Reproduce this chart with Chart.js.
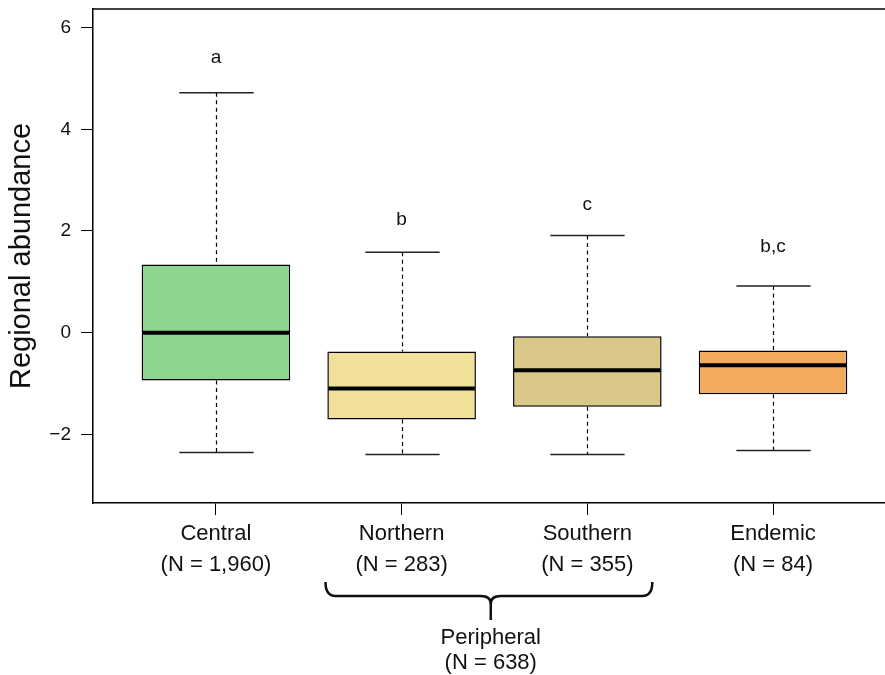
<!DOCTYPE html>
<html>
<head>
<meta charset="utf-8">
<script src="https://cdn.jsdelivr.net/npm/chart.js@4"></script>
<style>
  html, body { margin: 0; padding: 0; background: #fff; overflow: hidden; }
  canvas { display: block; }
</style>
</head>
<body>
<canvas id="chart" width="885" height="675"></canvas>
<script>
// Box plot summary per region
const categories = ['Central', 'Northern', 'Southern', 'Endemic'];
const sampleSizes = ['1,960', '283', '355', '84'];
const whiskerLow = [-2.36, -2.40, -2.40, -2.32];
const q1 = [-0.94, -1.71, -1.46, -1.21];
const medians = [0.00, -1.10, -0.74, -0.64];
const q3 = [1.34, -0.37, -0.07, -0.35];
const whiskerHigh = [4.72, 1.58, 1.91, 0.92];
const groupLetters = ['a', 'b', 'c', 'b,c'];
const letterY = [5.31, 2.11, 2.42, 1.58];
const yTicks = [-2, 0, 2, 4, 6];
const peripheralLabel = ['Peripheral', '(N = 638)'];

const boxColors = ['#8DD48E', '#F1E09A', '#D9C887', '#F3AA5C'];
const FONT = "'Liberation Sans', Arial, Helvetica, sans-serif";

// Whiskers, medians, letters, top frame line and the peripheral brace
const boxPlotExtras = {
    id: 'boxPlotExtras',
    beforeDatasetsDraw(chart) {
        const { ctx, scales: { x, y } } = chart;
        const meta = chart.getDatasetMeta(0);
        ctx.save();
        meta.data.forEach((bar, i) => {
            const cx = Math.round(x.getPixelForValue(i)) + 0.5;
            const half = bar.width / 4;
            ctx.strokeStyle = '#000';
            ctx.lineWidth = 1.2;
            ctx.setLineDash([4, 3.5]);
            ctx.beginPath();
            ctx.moveTo(cx, y.getPixelForValue(whiskerHigh[i]));
            ctx.lineTo(cx, y.getPixelForValue(q3[i]));
            ctx.moveTo(cx, y.getPixelForValue(q1[i]));
            ctx.lineTo(cx, y.getPixelForValue(whiskerLow[i]));
            ctx.stroke();

            ctx.setLineDash([]);
            ctx.lineWidth = 1.5;
            ctx.strokeStyle = '#222';
            ctx.beginPath();
            [whiskerHigh[i], whiskerLow[i]].forEach(v => {
                const py = y.getPixelForValue(v);
                ctx.moveTo(cx - half, py);
                ctx.lineTo(cx + half, py);
            });
            ctx.stroke();
        });
        ctx.restore();
    },
    afterDatasetsDraw(chart) {
        const { ctx, scales: { x, y } } = chart;
        const meta = chart.getDatasetMeta(0);
        ctx.save();
        meta.data.forEach((bar, i) => {
            const py = y.getPixelForValue(medians[i]);
            ctx.strokeStyle = '#000';
            ctx.lineWidth = 4;
            ctx.beginPath();
            ctx.moveTo(bar.x - bar.width / 2 + 1, py);
            ctx.lineTo(bar.x + bar.width / 2 - 1, py);
            ctx.stroke();

            ctx.fillStyle = '#111';
            ctx.font = `19px ${FONT}`;
            ctx.textAlign = 'center';
            ctx.textBaseline = 'alphabetic';
            ctx.fillText(groupLetters[i], x.getPixelForValue(i), y.getPixelForValue(letterY[i]));
        });
        ctx.restore();
    },
    afterDraw(chart) {
        const { ctx, chartArea, scales: { x } } = chart;
        ctx.save();
        // top frame line
        ctx.strokeStyle = '#000';
        ctx.lineWidth = 1.5;
        ctx.beginPath();
        ctx.moveTo(chartArea.left, chartArea.top);
        ctx.lineTo(chartArea.right, chartArea.top);
        ctx.stroke();

        // brace grouping Northern + Southern
        const b = chartArea.bottom;
        const xl = x.getPixelForValue(0.59);
        const xr = x.getPixelForValue(2.35);
        const xm = x.getPixelForValue(1.48);
        const yTop = b + 79, yBar = b + 93, yTip = b + 117;
        ctx.lineWidth = 2.5;
        ctx.strokeStyle = '#111';
        ctx.lineJoin = 'round';
        ctx.beginPath();
        ctx.moveTo(xl, yTop);
        ctx.quadraticCurveTo(xl, yBar, xl + 10, yBar);
        ctx.lineTo(xm - 10, yBar);
        ctx.quadraticCurveTo(xm, yBar, xm, yBar + 8);
        ctx.lineTo(xm, yTip);
        ctx.moveTo(xm, yBar + 8);
        ctx.quadraticCurveTo(xm, yBar, xm + 10, yBar);
        ctx.lineTo(xr - 10, yBar);
        ctx.quadraticCurveTo(xr, yBar, xr, yTop);
        ctx.stroke();

        ctx.fillStyle = '#111';
        ctx.font = `22px ${FONT}`;
        ctx.textAlign = 'center';
        ctx.textBaseline = 'middle';
        ctx.fillText(peripheralLabel[0], xm, b + 135);
        ctx.fillText(peripheralLabel[1], xm, b + 160);
        ctx.restore();
    }
};

const ctx = document.getElementById('chart').getContext('2d');
new Chart(ctx, {
    type: 'bar',
    data: {
        datasets: [{
            data: categories.map((c, i) => ({ x: i, y: [q1[i], q3[i]] })),
            backgroundColor: boxColors,
            borderColor: '#000',
            borderWidth: 1.5,
            borderSkipped: false,
            categoryPercentage: 1,
            barPercentage: 0.8
        }]
    },
    options: {
        responsive: false,
        animation: false,
        devicePixelRatio: 1,
        layout: { padding: { top: 9, left: 0, right: 0, bottom: 0 } },
        plugins: {
            legend: { display: false },
            tooltip: { enabled: false }
        },
        scales: {
            x: {
                type: 'linear',
                min: -0.662,
                max: 3.603,
                bounds: 'data',
                offset: false,
                afterBuildTicks: scale => {
                    scale.ticks = categories.map((c, i) => ({ value: i }));
                },
                afterFit: scale => {
                    scale.height = 172;
                    scale.paddingLeft = 0;
                    scale.paddingRight = 0;
                },
                grid: {
                    offset: false,
                    drawOnChartArea: false,
                    drawTicks: true,
                    tickLength: 12,
                    color: '#000',
                    lineWidth: 1
                },
                border: { display: true, color: '#000', width: 1.5 },
                ticks: {
                    autoSkip: false,
                    maxRotation: 0,
                    padding: 3,
                    color: '#111',
                    font: { family: FONT, size: 22, lineHeight: 1.41 },
                    callback: value => [categories[value], `(N = ${sampleSizes[value]})`]
                }
            },
            y: {
                min: -3.352,
                max: 6.368,
                afterBuildTicks: scale => {
                    scale.ticks = yTicks.map(v => ({ value: v }));
                },
                afterFit: scale => {
                    scale.width = 93;
                    scale.paddingTop = 0;
                    scale.paddingBottom = 0;
                },
                grid: {
                    drawOnChartArea: false,
                    drawTicks: true,
                    tickLength: 12,
                    color: '#000',
                    lineWidth: 1
                },
                border: { display: true, color: '#000', width: 1.5 },
                ticks: {
                    padding: 10,
                    color: '#111',
                    font: { family: FONT, size: 19 },
                    callback: value => (value < 0 ? '\u2212' + Math.abs(value) : String(value))
                },
                title: {
                    display: true,
                    text: 'Regional abundance',
                    color: '#111',
                    padding: { top: 5, bottom: 0 },
                    font: { family: FONT, size: 29 }
                }
            }
        }
    },
    plugins: [boxPlotExtras]
});
</script>
</body>
</html>
